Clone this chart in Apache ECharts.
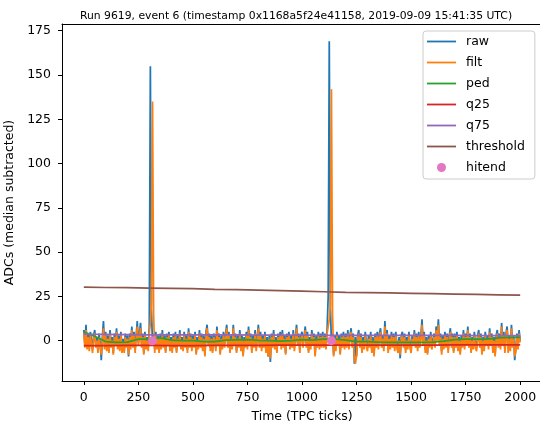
<!DOCTYPE html>
<html>
<head>
<meta charset="utf-8">
<script src="https://cdn.jsdelivr.net/npm/echarts@6/dist/echarts.min.js"></script>
<style>html,body{margin:0;padding:0;background:#fff}#c{width:540px;height:421px}</style>
</head>
<body>
<div id="c"></div>
<script>
// ---- data ----
const titleText = 'Run 9619, event 6 (timestamp 0x1168a5f24e41158, 2019-09-09 15:41:35 UTC)';
const xTicks = [0, 250, 500, 750, 1000, 1250, 1500, 1750, 2000];
const yTicks = [0, 25, 50, 75, 100, 125, 150, 175];
const sampleStep = 5; // TPC ticks between stored samples
const raw = [
  6, -2, 9, -3, 4, -4, 5, 0, -5, 3, 6, -2, 2, -6, 4, -1, -11, 2, 11, -3,
  5, -4, 3, -6, 6, -2, 2, -7, 4, -1, 7, -3, 3, -4, 5, -5, 1, -6, 4, -2,
  3, -9, 4, -3, 8, -2, 5, -5, 3, 11, -1, 4, 10, -2, 4, -7, 5, -3, 2, -4,
  8, 155, 18, -3, 4, -5, 5, -2, 3, -6, 4, -3, 6, -2, 3, -6, 4, -1, 5, -4,
  2, -5, 4, -2, 5, -6, 3, -1, 6, -3, 2, -4, 5, -2, 3, -5, 7, -2, 4, -4,
  3, -2, 5, -7, 2, -3, 6, -2, 4, -5, 3, -8, 5, 9, -1, 4, -4, 3, -6, 4,
  2, -4, 8, -1, 4, -7, 3, -3, 5, -2, 4, 9, -2, 5, -5, 3, -3, 9, -1, 4,
  -6, 3, -2, 6, -4, 3, -8, 2, -2, 5, -3, 8, -1, 4, -5, 3, -2, 6, -4, 2,
  9, -2, 5, -4, 3, -2, 5, -5, 2, -9, 3, -12, 4, -2, 6, -3, 2, -6, 4, -1,
  5, -3, 6, -2, 3, -7, 4, -1, 5, -3, 3, -2, 6, -4, 2, 9, -1, 4, -5, 3,
  5, -2, 3, 8, -2, 5, -6, 2, -3, 6, -1, 4, -8, 3, -2, 5, -3, 4, -2, 5,
  -2, 4, -3, 6, 25, 169, 20, -2, 4, -8, 3, -4, 5, -1, 3, -7, 4, -2, 5, -3,
  4, -2, 6, -3, 3, 7, -2, 4, -13, 2, -9, 3, 6, -2, 4, -6, 2, -3, 5, -1,
  -4, 3, -2, 5, -5, 2, -8, 4, -2, 5, -3, 4, 7, -2, 3, -4, 11, -1, 6, -5,
  3, -3, 5, -2, 4, -4, 5, -2, -6, 2, -10, 3, 5, -2, 4, -5, 2, -3, 5, -2,
  -5, 3, -1, 6, -2, 4, -4, 5, -2, 3, 12, -1, 5, -5, 2, -7, 3, -2, 5, -3,
  -4, 4, -2, 8, 2, 12, -1, 4, -6, 3, -3, 5, -2, 4, -5, 3, 7, -2, 4, -6,
  4, -2, 5, -4, 2, -7, 3, -2, 6, -3, 4, -1, 8, -2, 4, -6, 2, -3, 5, -2,
  -4, 3, 6, -2, 4, -7, 2, -4, 5, -1, 3, -3, 7, -1, 4, -5, 2, -8, 3, 6,
  -2, 4, -3, 10, -1, 5, -5, 4, 8, -2, 3, -4, 9, -2, 3, -11, -4, 4, -3, 6,
  0
];
const filt = [
  4, -4, 6, -5, 2, -6, 3, -2, -7, 1, 4, -4, 0, -7, 2, -3, -8, 0, 7, -5,
  3, -6, 1, -7, 4, -4, 0, -8, 2, -3, 5, -5, 1, -6, 3, -7, -1, -7, 2, -4,
  1, -8, 2, -5, 6, -4, 3, -7, 1, 8, -3, 2, 7, -4, 2, -8, 3, -5, 0, -6,
  4, 10, 22, 135, 14, -7, 3, -5, 1, -7, 2, -5, 4, -4, 1, -7, 2, -3, 3, -6,
  0, -7, 2, -4, 3, -7, 1, -3, 4, -5, 0, -6, 3, -4, 1, -7, 5, -4, 2, -6,
  1, -4, 3, -8, 0, -5, 4, -4, 2, -6, 1, -9, 3, 7, -3, 2, -6, 1, -7, 2,
  0, -6, 6, -3, 2, -8, 1, -5, 3, -4, 2, 7, -4, 3, -7, 1, -5, 7, -3, 2,
  -7, 1, -4, 4, -6, 1, -9, 0, -4, 3, -5, 6, -3, 2, -7, 1, -4, 4, -6, 0,
  7, -4, 3, -6, 1, -4, 3, -7, 0, -9, 1, -10, 2, -4, 4, -5, 0, -7, 2, -3,
  3, -5, 4, -4, 1, -8, 2, -3, 3, -5, 1, -4, 4, -6, 0, 7, -3, 2, -7, 1,
  3, -4, 1, 6, -4, 3, -7, 0, -5, 4, -3, 2, -9, 1, -4, 3, -5, 2, -4, 3,
  -4, 2, -5, 4, 8, 12, 20, 142, 15, -9, 1, -6, 3, -3, 1, -8, 2, -4, 3, -5,
  2, -4, 4, -5, 1, 5, -4, 2, -10, -13, -8, 1, 4, -4, 2, -7, 0, -5, 3, -3,
  -6, 1, -4, 3, -7, 0, -9, 2, -4, 3, -5, 2, 5, -4, 1, -6, 8, -3, 4, -7,
  1, -5, 3, -4, 2, -6, 3, -4, -7, 0, -8, 1, 3, -4, 2, -7, 0, -5, 3, -4,
  -7, 1, -3, 4, -4, 2, -6, 3, -4, 1, 9, -3, 3, -7, 0, -8, 1, -4, 3, -5,
  -6, 2, -4, 6, 0, 9, -3, 2, -8, 1, -5, 3, -4, 2, -7, 1, 5, -4, 2, -7,
  2, -4, 3, -6, 0, -8, 1, -4, 4, -5, 2, -3, 6, -4, 2, -7, 0, -5, 3, -4,
  -6, 1, 4, -4, 2, -8, 0, -6, 3, -3, 1, -5, 5, -3, 2, -7, 0, -9, 1, 4,
  -4, 2, -5, 8, -3, 3, -7, 2, 6, -7, 1, -6, 7, -4, 1, -9, -6, 2, -5, 4,
  -1
];
const pedTime = [0,50,100,150,200,250,300,350,400,450,500,550,600,650,700,750,800,850,900,950,1000,
  1050,1100,1150,1200,1250,1300,1350,1400,1450,1500,1550,1600,1650,1700,1750,1800,1850,1900,1950,2000];
const ped = [5, 2.5, -0.5, -1, -0.8, 0.8, 0.8, 1.5, 0.3, 0, 0, -0.5, -0.5, 0.3, 0.4, 0.5, 0.2, 0, -0.3, 0, 0.5,
  0.3, 0.8, 0.8, 0.3, -0.5, -0.5, -0.8, -1, -1, -1, -1, -0.8, -0.3, 0.5, 0.8, 0.8, 0.8, 1.5, 1.9, 1.9];
const levelTime = [0,100,200,300,400,500,600,700,800,900,1000,1100,1200,1300,1400,1500,1600,1700,1800,1900,2000];
const q25 = [-2.8, -2.8, -2.7, -2.7, -2.8, -2.8, -2.7, -2.7, -2.7, -2.6, -2.6, -2.6, -2.6, -2.5, -2.5, -2.5, -2.5, -2.4, -2.4, -2.4, -2.4];
const q75 = [3.6, 3.5, 3.4, 3.3, 3.3, 3.2, 3.2, 3.2, 3.1, 3.1, 3.1, 3.0, 3.0, 3.0, 2.9, 2.9, 2.9, 2.9, 2.8, 2.8, 2.8];
const threshold = [30.2, 30.0, 29.9, 29.7, 29.5, 29.3, 29.0, 28.8, 28.5, 28.2, 27.9, 27.6, 27.3, 27.1, 26.9, 26.7, 26.5, 26.3, 26.1, 25.9, 25.7];
const hitendTime = [315, 1135];
const hitend = [0, 0];

// ---- build ----
const pairs = (xs, ys) => ys.map((v, i) => [xs[i], v]);
const sampleTime = raw.map((_, i) => i * sampleStep);
const FONT = 'DejaVu Sans';
const LINE_ICON = 'path://M0,0 M0,3.6 L29,3.6 L29,5.4 L0,5.4 Z M29,9';
const lineSeries = (name, xs, ys, color, z) => ({
  name, type: 'line', data: pairs(xs, ys), symbol: 'none', showSymbol: false, z,
  lineStyle: { color, width: 1.75 }, itemStyle: { color }, emphasis: { disabled: true },
  animation: false
});

const chart = echarts.init(document.getElementById('c'), null, { renderer: 'canvas' });
chart.setOption({
  animation: false,
  title: {
    text: titleText, left: 291, top: 6, textAlign: 'center',
    textStyle: { fontFamily: FONT, fontSize: 10.8, fontWeight: 'normal', color: '#000' }
  },
  grid: {
    left: 62, top: 24, width: 480, height: 357, containLabel: false, outerBoundsMode: 'none',
    show: false
  },
  legend: {
    orient: 'vertical', left: 423, top: 31, z: 20,
    padding: [4, 10, 5, 4], itemGap: 8, itemWidth: 29, itemHeight: 9,
    backgroundColor: '#fff', borderColor: '#cccccc', borderWidth: 1, borderRadius: 3,
    itemStyle: { borderWidth: 0 },
    textStyle: { fontFamily: FONT, fontSize: 12.5, color: '#000', padding: [0, 0, 0, 5] },
    data: [
      { name: 'raw', icon: LINE_ICON },
      { name: 'filt', icon: LINE_ICON },
      { name: 'ped', icon: LINE_ICON },
      { name: 'q25', icon: LINE_ICON },
      { name: 'q75', icon: LINE_ICON },
      { name: 'threshold', icon: LINE_ICON },
      { name: 'hitend', icon: 'circle' }
    ]
  },
  xAxis: [
    {
      type: 'value', min: -100, max: 2100, position: 'bottom',
      name: 'Time (TPC ticks)', nameLocation: 'middle', nameGap: 29,
      nameTextStyle: { fontFamily: FONT, fontSize: 12.5, color: '#000' },
      axisLine: { onZero: false, lineStyle: { color: '#000', width: 1 } },
      axisTick: { show: true, length: 4, lineStyle: { color: '#000' }, customValues: xTicks },
      axisLabel: { fontFamily: FONT, fontSize: 12.5, color: '#000', margin: 10, customValues: xTicks, formatter: v => String(v) },
      splitLine: { show: false }
    },
    {
      type: 'value', min: -100, max: 2100, position: 'top',
      axisLine: { show: true, onZero: false, lineStyle: { color: '#000', width: 1 } },
      axisTick: { show: false }, axisLabel: { show: false }, splitLine: { show: false }
    }
  ],
  yAxis: {
    type: 'value', min: -22.8, max: 178.8,
    name: 'ADCs (median subtracted)', nameLocation: 'middle', nameGap: 42,
    nameTextStyle: { fontFamily: FONT, fontSize: 12.5, color: '#000' },
    axisLine: { show: true, onZero: false, lineStyle: { color: '#000', width: 1 } },
    axisTick: { show: true, length: 4, lineStyle: { color: '#000' }, customValues: yTicks },
    axisLabel: { fontFamily: FONT, fontSize: 12.5, color: '#000', margin: 11, customValues: yTicks, formatter: v => String(v) },
    splitLine: { show: false }
  },
  series: [
    lineSeries('raw', sampleTime, raw, '#1f77b4', 2),
    lineSeries('filt', sampleTime, filt, '#ff7f0e', 3),
    lineSeries('ped', pedTime, ped, '#2ca02c', 4),
    lineSeries('q25', levelTime, q25, '#d62728', 5),
    lineSeries('q75', levelTime, q75, '#9467bd', 6),
    lineSeries('threshold', levelTime, threshold, '#8c564b', 7),
    {
      name: 'hitend', type: 'scatter', data: pairs(hitendTime, hitend), z: 8,
      symbol: 'circle', symbolSize: 9, itemStyle: { color: '#e377c2', opacity: 1 },
      emphasis: { disabled: true }, animation: false
    }
  ]
});
</script>
</body>
</html>
